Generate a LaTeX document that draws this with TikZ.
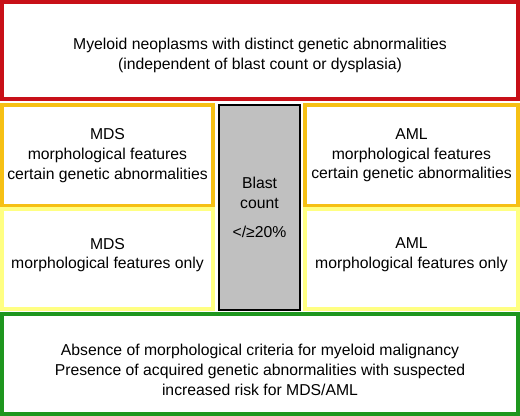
\documentclass[tikz,border=0pt]{standalone}
\usepackage{fontspec}
\setmainfont{Liberation Sans}
\definecolor{boxred}{RGB}{200,16,24}
\definecolor{boxorange}{RGB}{246,192,20}
\definecolor{boxyellow}{RGB}{255,255,130}
\definecolor{boxgreen}{RGB}{30,150,30}
\definecolor{blastgray}{RGB}{192,192,192}
\tikzset{
  box/.style={draw, rectangle, line width=0.1cm, inner sep=0pt},
  txt/.style={align=center, inner sep=0pt, font=\fontsize{11.2}{14}\selectfont},
}
\begin{document}
\begin{tikzpicture}
    \useasboundingbox (0,0) rectangle (13,10.4);
    % boxes
    \node[box, draw=boxred, minimum width=12.9cm, minimum height=2.425cm] (top) at (6.5,9.1375) {};
    \node[box, draw=boxorange, minimum width=5.275cm, minimum height=2.525cm] (mdsgen) at (2.6875,6.5125) {};
    \node[box, draw=boxyellow, minimum width=5.275cm, minimum height=2.5cm] (mdsmorph) at (2.6875,3.925) {};
    \node[box, draw=black, line width=0.05cm, fill=blastgray, minimum width=2.025cm, minimum height=5.125cm] (blast) at (6.4875,5.2125) {};
    \node[box, draw=boxorange, minimum width=5.325cm, minimum height=2.525cm] (amlgen) at (10.2875,6.5125) {};
    \node[box, draw=boxyellow, minimum width=5.325cm, minimum height=2.5cm] (amlmorph) at (10.2875,3.925) {};
    \node[box, draw=boxgreen, minimum width=12.9cm, minimum height=2.5cm] (bottom) at (6.5,1.3) {};

    % texts
    \node[txt] (toptext) at ([yshift=-0.12cm]top.center)
      {Myeloid neoplasms with distinct genetic abnormalities\\(independent of blast count or dysplasia)};
    \node[txt] (mdsgentext) at (mdsgen.center) {MDS\\morphological features\\certain genetic abnormalities};
    \node[txt] (mdsmorphtext) at ([yshift=0.1cm]mdsmorph.center) {MDS\\morphological features only};
    \node[txt] (blasttext) at (blast.center) {Blast\\count\\[6.5pt]</≥20\%};
    \node[txt] (amlgentext) at (amlgen.center) {AML\\morphological features\\certain genetic abnormalities};
    \node[txt] (amlmorphtext) at ([yshift=0.1cm]amlmorph.center) {AML\\morphological features only};
    \node[txt] (bottomtext) at ([yshift=-0.15cm]bottom.center)
      {Absence of morphological criteria for myeloid malignancy\\Presence of acquired genetic abnormalities with suspected\\increased risk for MDS/AML};
\end{tikzpicture}
\end{document}
